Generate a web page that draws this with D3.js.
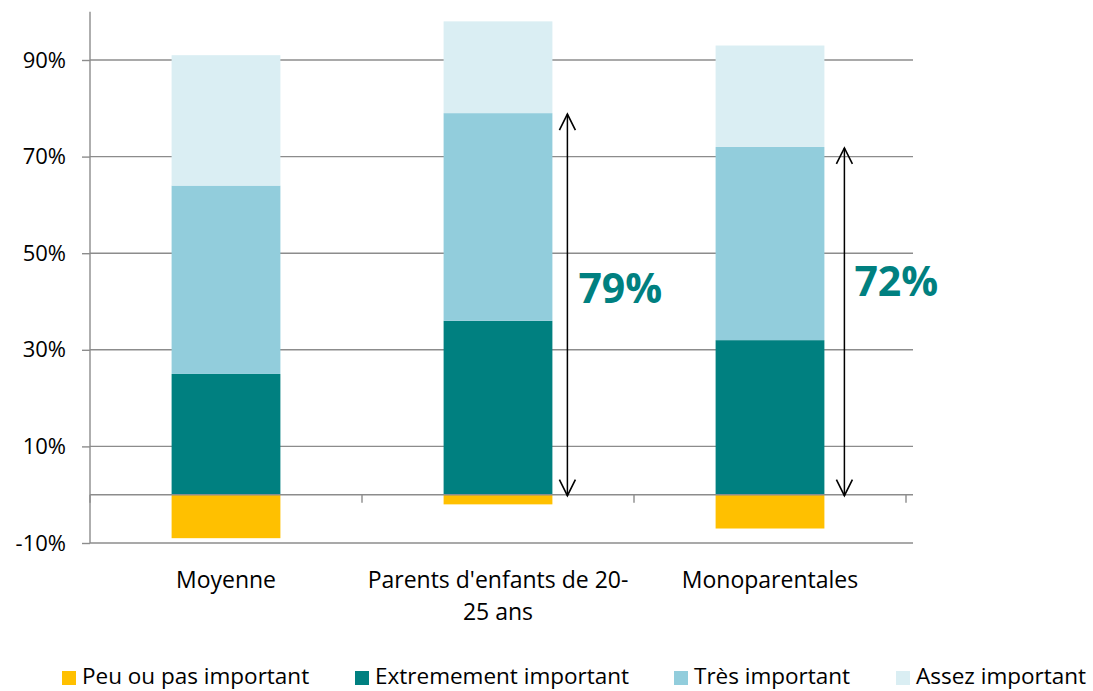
<!DOCTYPE html>
<html><head><meta charset="utf-8">
<script src="https://cdn.jsdelivr.net/npm/d3@7"></script>
<style>body{margin:0;background:#fff}svg{display:block;font-family:"Open Sans",sans-serif}</style>
</head><body><svg id="c" width="1093" height="691"></svg>
<script>
const categories = ["Moyenne", "Parents d'enfants de 20-25 ans", "Monoparentales"];
const categoryLines = [["Moyenne"], ["Parents d'enfants de 20-", "25 ans"], ["Monoparentales"]];
const seriesNames = ["Peu ou pas important", "Extremement important", "Très important", "Assez important"];
const peu = [-9, -2, -7];
const extremement = [25, 36, 32];
const tres = [39, 43, 40];
const assez = [27, 19, 21];
const colors = ["#FFC000", "#008080", "#92CDDC", "#DAEEF3"];
const yTicks = [-10, 10, 30, 50, 70, 90];
const annotations = [{cat: 1, value: 79, label: "79%"}, {cat: 2, value: 72, label: "72%"}];

const svg = d3.select("#c");
const x = d3.scaleBand().domain(categories).range([90, 906]).paddingInner(0.6).paddingOuter(0.3);
const xb = d3.scaleBand().domain(categories).range([90, 906]);
const y = d3.scaleLinear().domain([-10, 100]).range([543, 11.7]);
const grid = "#8c8c8c";

// gridlines
svg.append("g").selectAll("line").data(yTicks).join("line")
  .attr("x1", 90).attr("x2", 913).attr("y1", d => y(d)).attr("y2", d => y(d))
  .attr("stroke", grid).attr("stroke-width", 1.4);

// y axis
const yAxis = d3.axisLeft(y).tickValues(yTicks).tickFormat(d => d + "%").tickSize(8).tickPadding(16);
const ya = svg.append("g").attr("transform", "translate(90,0)").call(yAxis);
ya.select(".domain").attr("d", `M0,${y(100)}V${y(-10)}`).attr("stroke", grid).attr("stroke-width", 1.4);
ya.selectAll(".tick line").attr("stroke", grid).attr("stroke-width", 1.4);
ya.attr("font-size", 22).attr("font-family", "Open Sans");
ya.selectAll("text").attr("fill", "#000");

// stacked bars
const series = [peu, extremement, tres, assez];
categories.forEach((c, i) => {
  let pos = 0;
  series.forEach((s, k) => {
    const v = s[i];
    let y0, y1;
    if (v < 0) { y0 = v; y1 = 0; } else { y0 = pos; y1 = pos + v; pos += v; }
    svg.append("rect").attr("x", x(c)).attr("width", x.bandwidth())
      .attr("y", y(y1)).attr("height", y(y0) - y(y1)).attr("fill", colors[k]);
  });
});

// x axis at 0
const xa = svg.append("g");
xa.append("line").attr("x1", 90).attr("x2", 913).attr("y1", y(0)).attr("y2", y(0))
  .attr("stroke", grid).attr("stroke-width", 1.4);
const tickXs = categories.map(c => xb(c)).concat([906]);
xa.selectAll(".t").data(tickXs).join("line").attr("class", "t")
  .attr("x1", d => d).attr("x2", d => d).attr("y1", y(0)).attr("y2", y(0) + 8)
  .attr("stroke", grid).attr("stroke-width", 1.4);

// category labels
categories.forEach((c, i) => {
  const t = svg.append("text").attr("text-anchor", "middle").attr("font-size", 23).attr("fill", "#000");
  categoryLines[i].forEach((ln, j) => {
    t.append("tspan").attr("x", xb(c) + xb.bandwidth() / 2).attr("y", 588 + j * 32).text(ln);
  });
});

// arrows
const defs = svg.append("defs");
defs.append("marker").attr("id", "ah").attr("viewBox", "0 0 20 20").attr("refX", 18).attr("refY", 10)
  .attr("markerWidth", 20).attr("markerHeight", 20).attr("markerUnits", "userSpaceOnUse").attr("orient", "auto-start-reverse")
  .append("path").attr("d", "M2,2 L18,10 L2,18").attr("fill", "none").attr("stroke", "#000").attr("stroke-width", 1.6);
const arrowOffset = [0, 15, 20];
const labelPos = [null, {dx: 11, y: 303}, {dx: 10, y: 296}];
annotations.forEach(a => {
  const c = categories[a.cat];
  const ax = x(c) + x.bandwidth() + arrowOffset[a.cat];
  svg.append("line").attr("x1", ax).attr("x2", ax).attr("y1", y(a.value) + 1).attr("y2", y(0) + 1)
    .attr("stroke", "#000").attr("stroke-width", 1.5)
    .attr("marker-start", "url(#ah)").attr("marker-end", "url(#ah)");
  svg.append("text").attr("x", ax + labelPos[a.cat].dx).attr("y", labelPos[a.cat].y)
    .attr("font-size", 41).attr("font-weight", "bold").attr("fill", "#008080").text(a.label);
});

// legend
const legX = [62, 355, 674, 896];
seriesNames.forEach((n, k) => {
  svg.append("rect").attr("x", legX[k]).attr("y", 671).attr("width", 14).attr("height", 14).attr("fill", colors[k]);
  svg.append("text").attr("x", legX[k] + 20).attr("y", 684).attr("font-size", 22.5).attr("fill", "#000").text(n);
});
</script></body></html>
